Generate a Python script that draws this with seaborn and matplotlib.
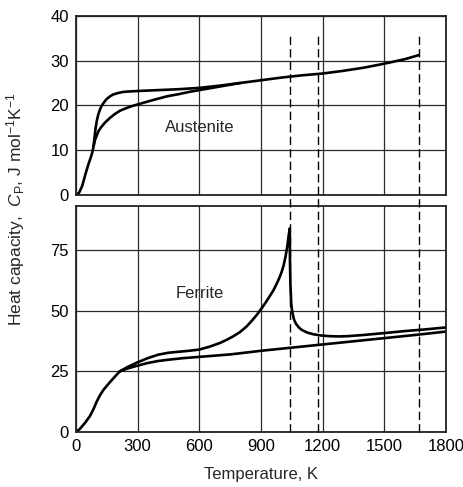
import numpy as np
import pandas as pd
import matplotlib
matplotlib.use("Agg")
import matplotlib.pyplot as plt
import matplotlib.transforms as mtransforms
import seaborn as sns

# ---------------- data ----------------
# Austenite panel
aus_common_T = [0, 15, 30, 45, 60, 72, 80, 86]
aus_common_C = [0, 0.5, 2.0, 4.5, 6.8, 8.4, 9.6, 11.0]
aus_upper_T = [86, 90, 95, 101, 108, 116, 125, 135, 149, 165, 180, 200, 230, 260, 300, 400, 500,
               600, 700, 800, 900, 1000, 1100, 1200, 1300, 1400, 1500, 1600, 1667]
aus_upper_C = [11.0, 12.8, 14.8, 16.5, 17.9, 19.0, 19.9, 20.6, 21.4, 22.0, 22.4, 22.7, 23.0, 23.1,
               23.2, 23.4, 23.6, 23.9, 24.4, 25.0, 25.6, 26.2, 26.7, 27.1, 27.7, 28.4, 29.3, 30.3, 31.2]
aus_lower_T = [86, 92, 101, 110, 120, 140, 165, 190, 214, 240, 270, 300, 360, 441, 500, 550, 600,
               700, 800]
aus_lower_C = [11.0, 12.2, 13.3, 14.3, 15.0, 16.1, 17.2, 18.1, 18.8, 19.3, 19.8, 20.2, 21.0, 22.0,
               22.5, 23.0, 23.4, 24.2, 25.0]

# Ferrite panel
fer_common_T = [0, 20, 45, 68, 85, 100, 117, 135, 149, 165, 180, 197, 214]
fer_common_C = [0, 1.5, 4.0, 6.7, 9.5, 12.5, 15.3, 17.6, 19.0, 20.6, 22.0, 23.6, 25.1]
fer_mag_T = [214, 250, 295, 350, 400, 450, 500, 550, 600, 650, 700, 733, 766, 798, 830, 855, 879,
             900, 920, 940, 960, 975, 990, 1000, 1010, 1020, 1028, 1034, 1040, 1041, 1043, 1047,
             1052, 1060, 1070, 1085, 1100, 1125, 1154, 1190, 1235, 1280, 1320, 1400, 1490, 1600,
             1700, 1800]
fer_mag_C = [25.1, 26.8, 28.6, 30.5, 31.9, 32.7, 33.1, 33.5, 34.0, 35.2, 36.7, 38.0, 39.5, 41.2,
             43.5, 45.8, 48.2, 50.6, 53.0, 55.6, 58.3, 60.8, 63.6, 65.8, 68.6, 72.5, 76.5, 80.5,
             83.8, 70.0, 61.0, 53.0, 49.5, 46.5, 44.6, 43.0, 42.0, 41.0, 40.3, 39.8, 39.5, 39.4,
             39.5, 40.0, 40.7, 41.6, 42.3, 43.1]
fer_lat_T = [214, 250, 295, 350, 400, 457, 525, 600, 750, 900, 1050, 1200, 1350, 1500, 1650, 1800]
fer_lat_C = [25.1, 26.2, 27.3, 28.5, 29.3, 29.9, 30.5, 31.0, 32.0, 33.5, 34.8, 36.1, 37.4, 38.7,
             40.0, 41.4]

transitions_T = [1040, 1178, 1670]

x_ticks = [0, 300, 600, 900, 1200, 1500, 1800]
top_yticks = [0, 10, 20, 30, 40]
bot_yticks = [0, 25, 50, 75]

# ---------------- style ----------------
sns.set_theme(style="white")
plt.rcParams["font.family"] = ["Liberation Sans", "DejaVu Sans"]
plt.rcParams["mathtext.fontset"] = "custom"
plt.rcParams["mathtext.rm"] = "Liberation Sans"
plt.rcParams["mathtext.it"] = "Liberation Sans:italic"
plt.rcParams["mathtext.sf"] = "Liberation Sans"

W, H = 464, 487
fig = plt.figure(figsize=(W / 100, H / 100), dpi=100)

L = 76 / W
R = 446 / W
ax_top = fig.add_axes([L, 1 - 195 / H, R - L, (195 - 15.7) / H])
ax_bot = fig.add_axes([L, 1 - 432.3 / H, R - L, (432.3 - 206) / H])

line_kw = dict(color="black", linewidth=1.9, sort=False, estimator=None)


def curve(ax, T, C):
    df = pd.DataFrame({"T": T, "C": C})
    sns.lineplot(data=df, x="T", y="C", ax=ax, **line_kw)


curve(ax_top, aus_common_T, aus_common_C)
curve(ax_top, aus_upper_T, aus_upper_C)
curve(ax_top, aus_lower_T, aus_lower_C)

curve(ax_bot, fer_common_T, fer_common_C)
curve(ax_bot, fer_mag_T, fer_mag_C)
curve(ax_bot, fer_lat_T, fer_lat_C)

for ax in (ax_top, ax_bot):
    for ln in ax.get_lines():
        ln.set_solid_joinstyle("round")
        ln.set_solid_capstyle("round")

for ax, yt, ylim in [(ax_top, top_yticks, (0, 40)), (ax_bot, bot_yticks, (0, 93))]:
    ax.set_xlim(0, 1800)
    ax.set_ylim(*ylim)
    ax.set_xticks(x_ticks)
    ax.set_yticks(yt)
    ax.grid(True, color="#2a2a2a", linewidth=0.9)
    ax.set_axisbelow(True)
    for s in ax.spines.values():
        s.set_color("#222222")
        s.set_linewidth(1.3)
    ax.tick_params(axis="both", length=0, labelsize=12, colors="black", pad=5)
    ax.set_xlabel("")
    ax.set_ylabel("")

ax_top.set_xticklabels([])

# dashed transition lines spanning both panels
trans = mtransforms.blended_transform_factory(ax_bot.transData, fig.transFigure)
ax_bot.vlines(transitions_T, 1 - 432.3 / H, 1 - 32 / H, transform=trans, clip_on=False,
              colors="black", linewidth=1.0, linestyles=(0, (6, 3)), zorder=3)

ax_top.text(603, 15, "Austenite", ha="center", va="center", fontsize=12)
ax_bot.text(600, 57, "Ferrite", ha="center", va="center", fontsize=12)

ax_bot.set_xlabel("Temperature, K", fontsize=12, labelpad=9)
fig.text(16 / W, 1 - 209 / H,
         r"Heat capacity,  $C_\mathrm{P}$, J mol$^{-1}$K$^{-1}$",
         rotation=90, ha="center", va="center", fontsize=12.5)

fig.savefig("out.png", dpi=100, facecolor="white")
